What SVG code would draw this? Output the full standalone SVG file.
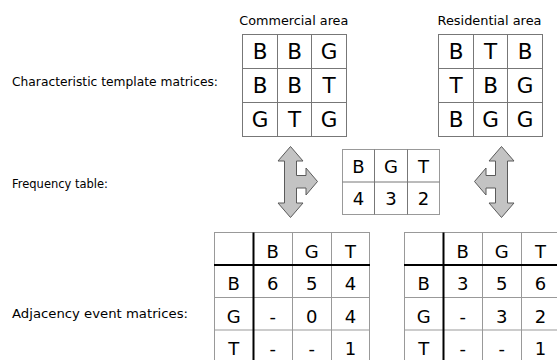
<svg xmlns="http://www.w3.org/2000/svg" width="557" height="360" viewBox="0 0 557 360">
<style>
text{font-family:"DejaVu Sans","Liberation Sans",sans-serif;fill:#000}
.lbl{font-size:13px}
.hdr{font-size:13px;text-anchor:middle}
.big{font-size:21.5px;text-anchor:middle}
.mid{font-size:18px;text-anchor:middle}
.grid{stroke:#777;stroke-width:1;fill:none}
.thin{stroke:#999;stroke-width:1;fill:none}
.thick{stroke:#000;stroke-width:2;fill:none}
.arrow{fill:#c3c3c3;stroke:#5a5a5a;stroke-width:1;stroke-linejoin:miter}
</style>
<rect width="557" height="360" fill="#fff"/>

<g id="labels">
<text class="lbl" x="12" y="86" textLength="206" lengthAdjust="spacingAndGlyphs">Characteristic template matrices:</text>
<text class="lbl" x="12" y="187.5" textLength="96" lengthAdjust="spacingAndGlyphs">Frequency table:</text>
<text class="lbl" x="12" y="317.5" textLength="176" lengthAdjust="spacingAndGlyphs">Adjacency event matrices:</text>
</g>

<g id="commercial">
<text class="hdr" x="293.8" y="25" textLength="109" lengthAdjust="spacingAndGlyphs">Commercial area</text>
<rect class="grid" x="242.5" y="34.5" width="104" height="102"/>
<path class="grid" d="M277.5 34.5V136.5M311.5 34.5V136.5M242.5 68.5H346.5M242.5 102.5H346.5"/>
<text class="big" x="260" y="59">B</text><text class="big" x="294.5" y="59">B</text><text class="big" x="329" y="59">G</text>
<text class="big" x="260" y="93">B</text><text class="big" x="294.5" y="93">B</text><text class="big" x="329" y="93">T</text>
<text class="big" x="260" y="127">G</text><text class="big" x="294.5" y="127">T</text><text class="big" x="329" y="127">G</text>
</g>

<g id="residential">
<text class="hdr" x="489.5" y="25" textLength="104" lengthAdjust="spacingAndGlyphs">Residential area</text>
<rect class="grid" x="438.5" y="34.5" width="104" height="102"/>
<path class="grid" d="M473.5 34.5V136.5M507.5 34.5V136.5M438.5 68.5H542.5M438.5 102.5H542.5"/>
<text class="big" x="456" y="59">B</text><text class="big" x="490.5" y="59">T</text><text class="big" x="525" y="59">B</text>
<text class="big" x="456" y="93">T</text><text class="big" x="490.5" y="93">B</text><text class="big" x="525" y="93">G</text>
<text class="big" x="456" y="127">B</text><text class="big" x="490.5" y="127">G</text><text class="big" x="525" y="127">G</text>
</g>

<g id="frequency">
<rect class="thin" x="342.5" y="149.5" width="97" height="65"/>
<path class="grid" d="M374.5 149.5V214.5M407.5 149.5V214.5M342.5 182H439.5"/>
<text class="mid" x="358.5" y="172.5">B</text><text class="mid" x="391" y="172.5">G</text><text class="mid" x="423.5" y="172.5">T</text>
<text class="mid" x="358.5" y="205">4</text><text class="mid" x="391" y="205">3</text><text class="mid" x="423.5" y="205">2</text>
</g>

<g id="connectors">
<path id="arrow-left" class="arrow" d="M290.5 146.5L303 161H296.5V175.5H306V168L317.5 181.5L306 195V188H296.5V203H303L290.5 217.5L278 203H284.5V161H278Z"/>
<path id="arrow-right" class="arrow" d="M501.5 146.5L514 161H507.5V203H514L501.5 217.5L489 203H495.5V188H486V195L474.5 181.5L486 168V175.5H495.5V161H489Z"/>
</g>

<g id="adjacency-commercial">
<path class="thin" d="M214 232.5H370M214 297.5H370M214 330H370M214 362.5H370M214.5 232.5V362.5M292.5 232.5V362.5M331.5 232.5V362.5M369.5 232.5V362.5"/>
<path class="thick" d="M214 265H370M253.5 232.5V362.5"/>
<text class="mid" x="272.8" y="257.5">B</text><text class="mid" x="311.8" y="257.5">G</text><text class="mid" x="350.4" y="257.5">T</text>
<text class="mid" x="233.8" y="290">B</text><text class="mid" x="272.8" y="290">6</text><text class="mid" x="311.8" y="290">5</text><text class="mid" x="350.4" y="290">4</text>
<text class="mid" x="233.8" y="322.5">G</text><text class="mid" x="272.8" y="322.5">-</text><text class="mid" x="311.8" y="322.5">0</text><text class="mid" x="350.4" y="322.5">4</text>
<text class="mid" x="233.8" y="355">T</text><text class="mid" x="272.8" y="355">-</text><text class="mid" x="311.8" y="355">-</text><text class="mid" x="350.4" y="355">1</text>
</g>

<g id="adjacency-residential">
<path class="thin" d="M404 232.5H560M404 297.5H560M404 330H560M404 362.5H560M404.5 232.5V362.5M482.5 232.5V362.5M521.5 232.5V362.5"/>
<path class="thick" d="M404 265H560M443.5 232.5V362.5"/>
<text class="mid" x="462.8" y="257.5">B</text><text class="mid" x="501.8" y="257.5">G</text><text class="mid" x="540.4" y="257.5">T</text>
<text class="mid" x="423.8" y="290">B</text><text class="mid" x="462.8" y="290">3</text><text class="mid" x="501.8" y="290">5</text><text class="mid" x="540.4" y="290">6</text>
<text class="mid" x="423.8" y="322.5">G</text><text class="mid" x="462.8" y="322.5">-</text><text class="mid" x="501.8" y="322.5">3</text><text class="mid" x="540.4" y="322.5">2</text>
<text class="mid" x="423.8" y="355">T</text><text class="mid" x="462.8" y="355">-</text><text class="mid" x="501.8" y="355">-</text><text class="mid" x="540.4" y="355">1</text>
</g>
</svg>
